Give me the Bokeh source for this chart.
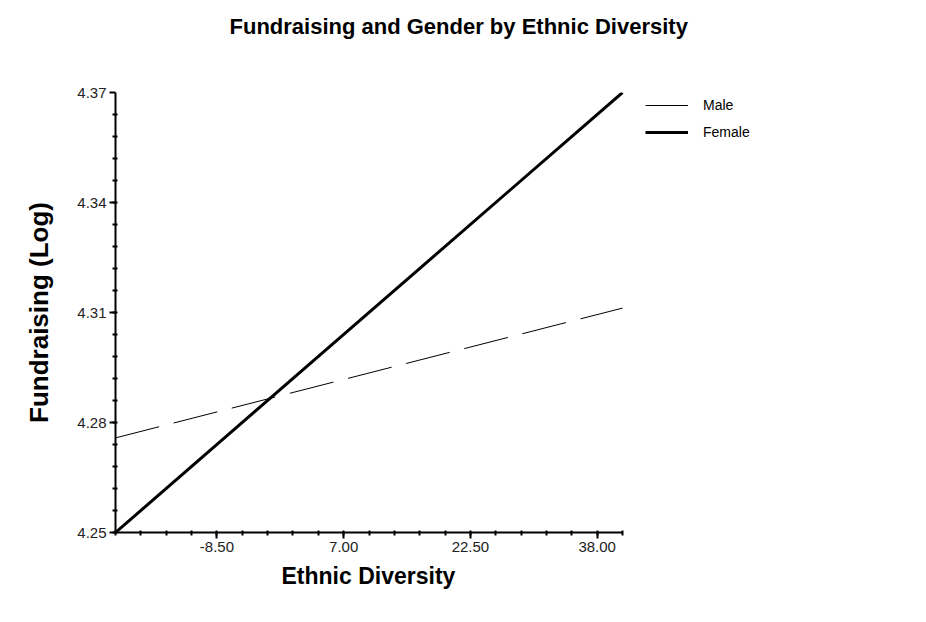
import numpy as np
from bokeh.plotting import figure
from bokeh.models import (FixedTicker, NumeralTickFormatter, Legend, LegendItem,
                          Title, Range1d, ColumnDataSource)
from bokeh.embed import file_html
from bokeh.resources import INLINE

# Simple-slopes data: predicted fundraising (log) at the low/high end of diversity
diversity = [-20.9, 41.1]
male = [4.2758, 4.3112]
female = [4.25, 4.37]

x_ticks = [-8.5, 7.0, 22.5, 38.0]
y_ticks = [4.25, 4.28, 4.31, 4.34, 4.37]

FONT = "Liberation Sans"

# page geometry (px): the axes occupy LEFT..AXIS_RIGHT, the legend sits to the right
W, H = 926, 622
LEFT, AXIS_RIGHT = 115, 622
# frame runs to the page edge so the legend can live inside it; the x axis is bounded
x_end = diversity[0] + (diversity[1] - diversity[0]) * (W - LEFT) / (AXIS_RIGHT - LEFT)

p = figure(width=W, height=H, output_backend="svg", toolbar_location=None,
           x_range=Range1d(diversity[0], x_end),
           y_range=Range1d(y_ticks[0], y_ticks[-1]),
           min_border_left=LEFT, min_border_right=0,
           min_border_top=92, min_border_bottom=90)
p.outline_line_color = None
p.grid.visible = False
p.background_fill_color = "white"
p.border_fill_color = "white"

# trailing blank lines lift the heading towards the top of the page
p.add_layout(Title(text="Fundraising and Gender by Ethnic Diversity\n\n", align="left",
                   offset=114, standoff=8,
                   text_font=FONT, text_font_size="22px",
                   text_font_style="bold", text_color="black"), "above")

src = ColumnDataSource(dict(x=diversity, male=male, female=female))
p.line("x", "male", source=src, line_color="black", line_width=1, line_dash="45 15")
p.line("x", "female", source=src, line_color="black", line_width=3)

# legend swatches: plain solid strokes
leg_m = p.line([np.nan], [np.nan], line_color="black", line_width=1)
leg_f = p.line([np.nan], [np.nan], line_color="black", line_width=3)
legend = Legend(items=[LegendItem(label="Male", renderers=[leg_m]),
                       LegendItem(label="Female", renderers=[leg_f])],
                location=(530, 390), border_line_color=None, background_fill_alpha=0,
                padding=0, margin=0, spacing=7, glyph_width=43, glyph_height=20,
                label_height=20, label_standoff=15, label_text_font=FONT,
                label_text_font_size="14px", label_text_color="black")
p.add_layout(legend, "center")

# x axis (its title is set below the axis, centred under the bounded axis line)
xa = p.xaxis[0]
x_minor = list(np.arange(diversity[0], diversity[1] + 0.01, (x_ticks[1] - x_ticks[0]) / 5))
xa.ticker = FixedTicker(ticks=x_ticks, minor_ticks=x_minor)
xa.formatter = NumeralTickFormatter(format="0.00")
xa.bounds = (diversity[0], diversity[1])
p.add_layout(Title(text="Ethnic Diversity", align="left", offset=166, standoff=12,
                   text_font=FONT, text_font_size="23px",
                   text_font_style="bold", text_color="black"), "below")

# y axis
ya = p.yaxis[0]
y_minor = list(np.arange(y_ticks[0], y_ticks[-1] + 0.0001, (y_ticks[1] - y_ticks[0]) / 5))
ya.ticker = FixedTicker(ticks=y_ticks, minor_ticks=y_minor)
ya.formatter = NumeralTickFormatter(format="0.00")
ya.axis_label = "Fundraising (Log)"

for ax in (xa, ya):
    ax.axis_line_width = 2
    ax.axis_line_color = "black"
    ax.major_tick_line_color = "black"
    ax.major_tick_line_width = 2
    ax.major_tick_out = 6
    ax.major_tick_in = 0
    ax.minor_tick_line_color = "black"
    ax.minor_tick_line_width = 2
    ax.minor_tick_out = 3
    ax.minor_tick_in = 2
    ax.major_label_text_font = FONT
    ax.major_label_text_font_size = "15px"
    ax.major_label_text_color = "#222222"
    ax.axis_label_text_font = FONT
    ax.axis_label_text_font_style = "bold"
    ax.axis_label_text_color = "black"
    ax.major_label_standoff = 3

ya.axis_label_text_font_size = "26px"
ya.axis_label_standoff = 20

open("out.html", "w").write(file_html(p, INLINE))
